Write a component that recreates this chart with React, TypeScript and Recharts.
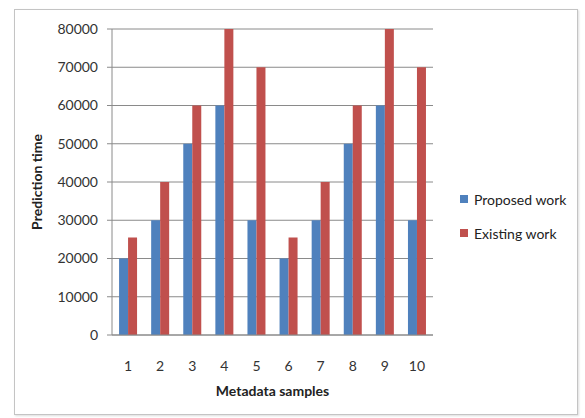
import { BarChart, Bar, XAxis, YAxis, CartesianGrid } from 'recharts'

const samples = ['1', '2', '3', '4', '5', '6', '7', '8', '9', '10']
const proposedWork = [20000, 30000, 50000, 60000, 30000, 20000, 30000, 50000, 60000, 30000]
const existingWork = [25500, 40000, 60000, 80000, 70000, 25500, 40000, 60000, 80000, 70000]
const yTicks = [0, 10000, 20000, 30000, 40000, 50000, 60000, 70000, 80000]

const seriesNames = ['Proposed work', 'Existing work']
const colors = ['#4F81BD', '#C0504D']

const FONT = 'Lato, "Open Sans", sans-serif'

// legend sits outside the chart so it doesn't eat into the plot area
function LegendBox() {
  return (
    <div style={{ position: 'absolute', left: 460, top: 182, width: 120, fontFamily: FONT, fontSize: 14, color: '#222' }}>
      {seriesNames.map((name, i) => (
        <div key={name} style={{ display: 'flex', alignItems: 'center', height: 34 }}>
          <span style={{ width: 8, height: 8, background: colors[i], marginRight: 6, display: 'inline-block' }} />
          {name}
        </div>
      ))}
    </div>
  )
}

export default function App() {
  const data = samples.map((s, i) => ({
    sample: s,
    proposed: proposedWork[i],
    existing: existingWork[i],
  }))

  return (
    <div style={{ position: 'absolute', left: 0, top: 0, width: 585, height: 418, background: '#fff' }}>
      <div
        style={{
          position: 'absolute',
          left: 14,
          top: 9,
          width: 562,
          height: 404,
          border: '1px solid #c4c4c4',
          boxShadow: '1px 1px 2px #ddd',
        }}
      />
      <BarChart
        width={585}
        height={418}
        data={data}
        margin={{ top: 29, right: 152, bottom: 0, left: 0 }}
        barCategoryGap="22%"
        barGap={0}
        style={{ position: 'absolute', left: 0, top: 0 }}
      >
        <CartesianGrid vertical={false} stroke="#8a8a8a" strokeWidth={1} />
        <XAxis
          dataKey="sample"
          height={83}
          tickLine={false}
          tickMargin={20}
          axisLine={{ stroke: '#8a8a8a' }}
          tick={{ fill: '#333', fontSize: 14, fontFamily: FONT }}
          label={{
            value: 'Metadata samples',
            position: 'insideBottom',
            offset: 22,
            style: { fill: '#222', fontSize: 14, fontWeight: 'bold', fontFamily: FONT },
          }}
        />
        <YAxis
          width={112}
          domain={[0, 80000]}
          ticks={yTicks}
          interval={0}
          tickSize={5}
          tickMargin={9}
          tickLine={{ stroke: '#8a8a8a' }}
          axisLine={{ stroke: '#8a8a8a' }}
          tick={{ fill: '#333', fontSize: 14, fontFamily: FONT }}
          label={{
            value: 'Prediction time',
            angle: -90,
            position: 'insideLeft',
            offset: 37,
            style: { textAnchor: 'middle', fill: '#222', fontSize: 14, fontWeight: 'bold', fontFamily: FONT },
          }}
        />
        <Bar dataKey="proposed" name={seriesNames[0]} fill={colors[0]} isAnimationActive={false} />
        <Bar dataKey="existing" name={seriesNames[1]} fill={colors[1]} isAnimationActive={false} />
      </BarChart>
      <LegendBox />
    </div>
  )
}
